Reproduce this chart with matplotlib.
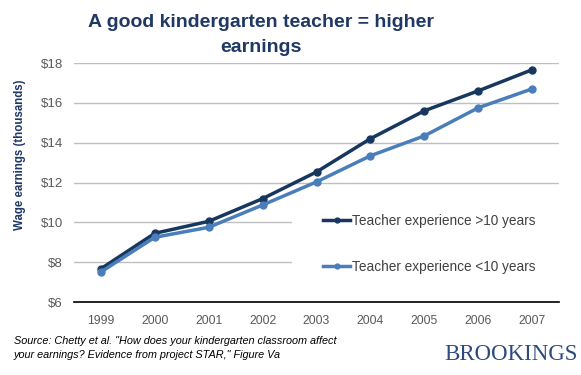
import matplotlib
matplotlib.use("Agg")
import matplotlib.pyplot as plt
from matplotlib.patches import Rectangle
import numpy as np

plt.rcParams["font.family"] = ["Liberation Sans", "DejaVu Sans"]

# Data (wage earnings, thousands of $)
years = ["1999", "2000", "2001", "2002", "2003", "2004", "2005", "2006", "2007"]
exp_over_10 = [7.67, 9.45, 10.05, 11.19, 12.53, 14.2, 15.6, 16.6, 17.66]
exp_under_10 = [7.51, 9.25, 9.75, 10.87, 12.03, 13.34, 14.34, 15.75, 16.7]
yticks = [6, 8, 10, 12, 14, 16, 18]

DARK = "#17375E"
LIGHT = "#4A7EBB"
NAVY = "#1F3864"

fig = plt.figure(figsize=(5.81, 3.75), dpi=100)
ax = fig.add_axes([74 / 581, 1 - 302 / 375, (559 - 74) / 581, (302 - 63) / 375])

x = np.arange(len(years))
ax.plot(x, exp_over_10, color=DARK, lw=2.5, marker="o", ms=5,
        label="Teacher experience >10 years", zorder=3)
ax.plot(x, exp_under_10, color=LIGHT, lw=2.5, marker="o", ms=5,
        label="Teacher experience <10 years", zorder=3)

ax.set_xlim(-0.5, len(years) - 0.5)
ax.set_ylim(6, 18)
ax.set_yticks(yticks)
ax.set_yticklabels([f"${v}" for v in yticks], color="#595959", fontsize=9.5)
ax.set_xticks(x)
ax.set_xticklabels(years, color="#595959", fontsize=8.8)
ax.tick_params(length=0)
ax.tick_params(axis="x", pad=9)
ax.tick_params(axis="y", pad=8)
ax.grid(axis="y", color="#BFBFBF", lw=1)
ax.set_axisbelow(True)
for s in ["top", "right", "left"]:
    ax.spines[s].set_visible(False)
ax.spines["bottom"].set_color("black")
ax.spines["bottom"].set_linewidth(1.2)
ax.spines["bottom"].set_zorder(6)

# white legend area hides the gridlines behind it (lines stay on top)
ax.add_patch(Rectangle((0.45, 0.02), 0.56, 0.44, transform=ax.transAxes,
                       facecolor="white", edgecolor="none", zorder=1,
                       clip_on=False))

leg = ax.legend(loc="upper left", bbox_to_anchor=(0.488, 0.42), frameon=False,
                fontsize=9.8, labelspacing=2.35, handlelength=2.0,
                handletextpad=0.1, labelcolor="#404040", markerscale=0.7)

fig.text(261 / 581, 1 - 35 / 375, "A good kindergarten teacher = higher\nearnings",
         ha="center", va="center", fontsize=14, fontweight="bold",
         color=NAVY, linespacing=1.55)
fig.text(20 / 581, 1 - 155 / 375, "Wage earnings (thousands)", rotation=90,
         ha="center", va="center", fontsize=8.3, fontweight="bold", color=NAVY)
fig.text(14 / 581, 1 - 348 / 375,
         "Source: Chetty et al. \"How does your kindergarten classroom affect\n"
         "your earnings? Evidence from project STAR,\" Figure Va",
         ha="left", va="center", fontsize=7.8, style="italic", color="black",
         linespacing=1.5)
fig.text(444 / 581, 1 - 354 / 375, "BROOKINGS", ha="left", va="center",
         fontsize=16.5, family="Liberation Serif", color="#2E4A7D")

fig.savefig("out.png", dpi=100)
